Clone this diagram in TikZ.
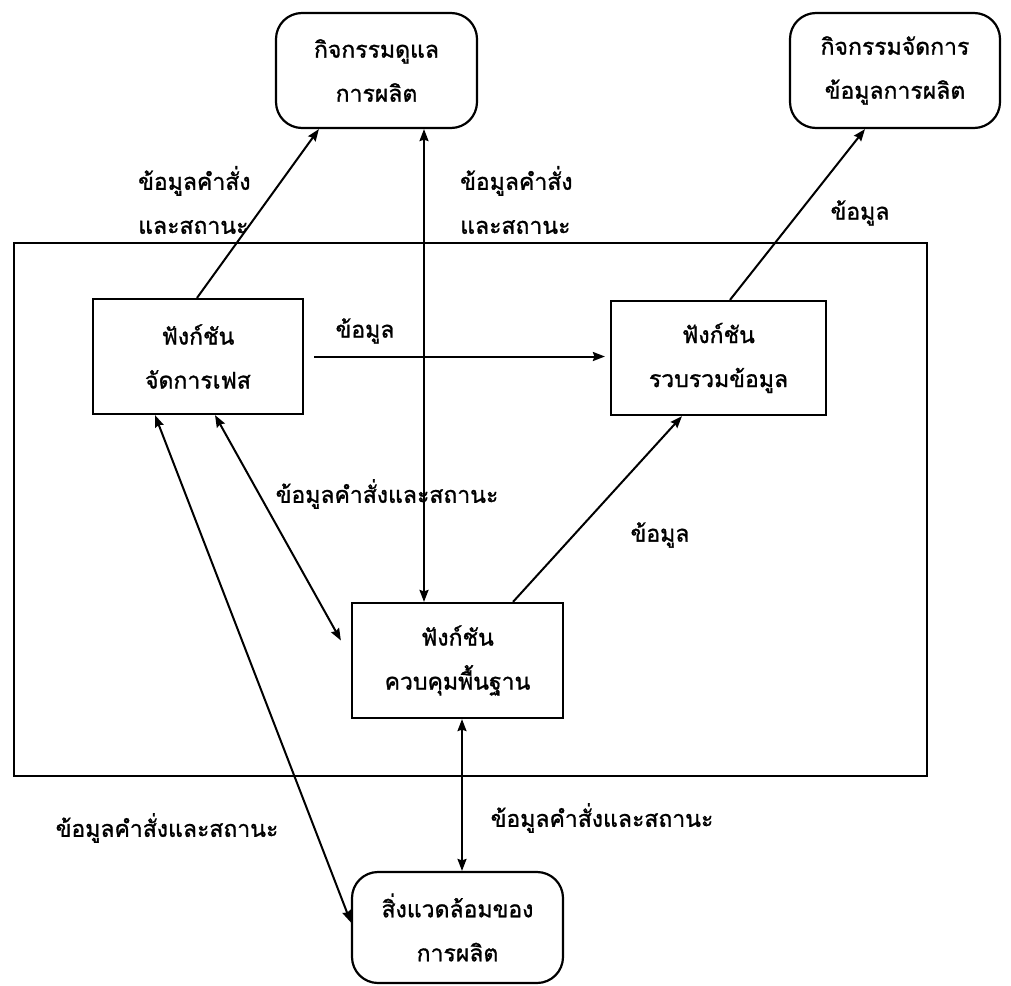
\documentclass[tikz,border=0pt]{standalone}
\usepackage{fontspec}
\newfontfamily\thaifont[Script=Thai,FakeBold=1.2]{Loma}
\usetikzlibrary{arrows.meta,calc}
\begin{document}
\begin{tikzpicture}[x=1pt,y=-1pt,
  txt/.style={font=\thaifont\fontsize{23}{44}\selectfont, inner sep=0pt},
  activity/.style={draw, line width=2.2pt, rounded corners=26pt, align=center, txt},
  func/.style={draw, line width=2.2pt, align=center, txt},
  tip/.tip={Stealth[length=12pt,width=9pt,inset=1.5pt]},
  flow/.style={line width=2pt, -tip},
  dflow/.style={line width=2pt, tip-tip},
  lbl/.style={txt, align=left}]
\useasboundingbox (0,0) rectangle (1011,985);

% system boundary
\node[draw, line width=2pt, minimum width=913pt, minimum height=533pt, inner sep=0pt] (sys) at (470.5,509.5) {};

% external activities
\node[activity, minimum width=201pt, minimum height=115pt] (act1) at (376.5,70.5) {กิจกรรมดูแล\\การผลิต};
\node[activity, minimum width=210pt, minimum height=115pt] (act2) at (895,70.5) {กิจกรรมจัดการ\\ข้อมูลการผลิต};
\node[activity, minimum width=211pt, minimum height=111pt] (env) at (457.5,927.5) {สิ่งแวดล้อมของ\\การผลิต};

% functions inside the system
\node[func, minimum width=210pt, minimum height=115pt] (phase) at (198,356.5) {ฟังก์ชัน\\จัดการเฟส};
\node[func, minimum width=215pt, minimum height=114pt] (collect) at (718.5,358) {ฟังก์ชัน\\รวบรวมข้อมูล};
\node[func, minimum width=211pt, minimum height=115pt] (ctrl) at (457.5,660.5) {ฟังก์ชัน\\ควบคุมพื้นฐาน};

\coordinate (vx) at (424,0);
\coordinate (hx) at (462,0);

% connectors
\draw[flow] ($(phase.north)+(-1,0)$) -- ($(act1.south west)+(44,0)$);
\draw[dflow] (act1.south -| vx) -- (ctrl.north -| vx);
\draw[flow] ($(collect.north)+(11.5,0)$) -- ($(act2.south)+(-30,0)$);
\draw[flow] ($(phase.east)+(10,0)$) -- ($(collect.west |- phase.east)+(-5,0)$);
\draw[flow] ($(ctrl.north)+(55.5,0)$) -- ($(collect.south)+(-36.5,0)$);
\draw[dflow] ($(phase.south)+(17,0)$) -- ($(ctrl.west)+(-10,-20)$);
\draw[dflow] ($(phase.south)+(-43,0)$) -- ($(env.west)+(0,-5)$);
\draw[dflow] (ctrl.south -| hx) -- (env.north -| hx);

% labels
\node[lbl, anchor=west] (l1) at (138,200) {ข้อมูลคำสั่ง\\และสถานะ};
\node[lbl, anchor=west] (l2) at (460,200) {ข้อมูลคำสั่ง\\และสถานะ};
\node[txt] (l3) at (860,213) {ข้อมูล};
\node[txt] (l4) at (365,331) {ข้อมูล};
\node[txt] (l5) at (387,494) {ข้อมูลคำสั่งและสถานะ};
\node[txt] (l6) at (660,535) {ข้อมูล};
\node[txt] (l7) at (602,818) {ข้อมูลคำสั่งและสถานะ};
\node[txt] (l8) at (167,828) {ข้อมูลคำสั่งและสถานะ};
\end{tikzpicture}
\end{document}
